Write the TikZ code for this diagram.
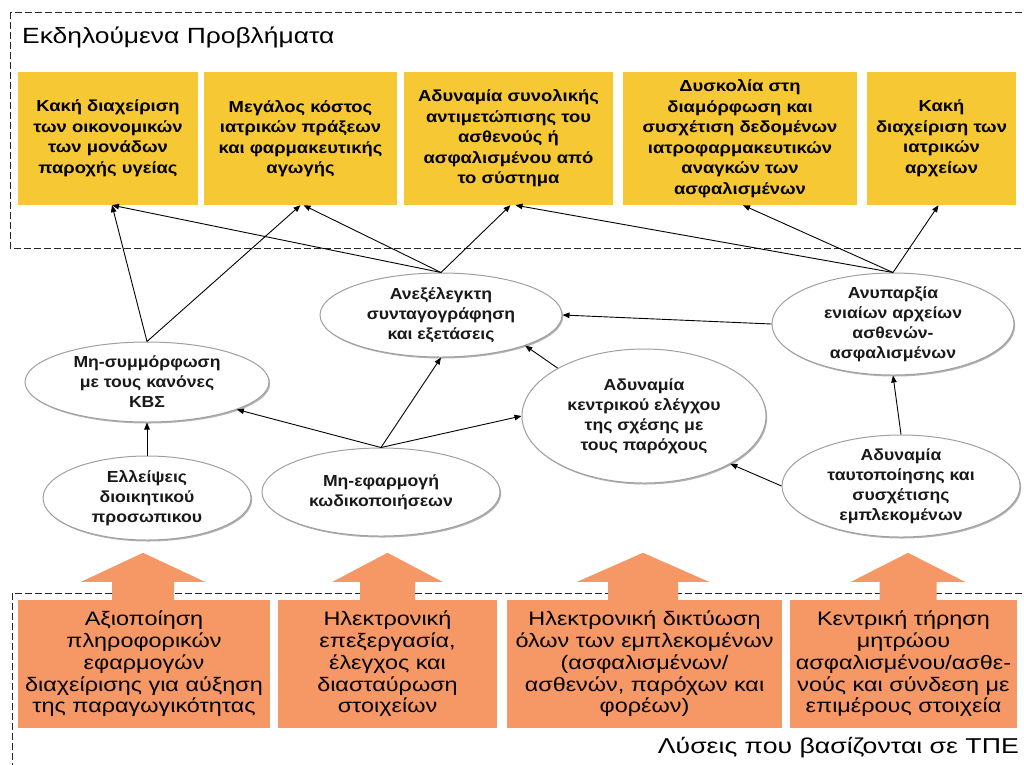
\documentclass[tikz,border=0pt]{standalone}
\usepackage{fontspec}
\setmainfont{Liberation Sans}
\newfontfamily\titlefont[FakeStretch=1.2]{Liberation Sans}
\newfontfamily\captionfont[FakeStretch=1.24]{Liberation Sans}
\newfontfamily\probfont[FakeStretch=1.15]{Liberation Sans}
\newfontfamily\causefont[FakeStretch=1.1]{Liberation Sans}
\newfontfamily\solfont[FakeStretch=1.2]{Liberation Sans}
\usetikzlibrary{shapes.geometric,arrows.meta,shadows}

\definecolor{probyellow}{RGB}{246,201,52}
\definecolor{solorange}{RGB}{246,152,102}
\definecolor{ellline}{RGB}{160,160,160}

% upward block arrow standing on a solution box
% #1 node, #2 x offset, #3 half stem width, #4 half head width
\newcommand\upblock[4]{%
  \fill[solorange] ([xshift=#2pt-#3pt]#1.north) -- ++(0,-18) -- ++(#3-#4,0)
    -- ++(#4,-29) -- ++(#4,29) -- ++(#3-#4,0) -- ++(0,18) -- cycle;}

\begin{document}
\begin{tikzpicture}[x=1pt,y=-1pt,
  frame/.style={draw=black!85, line width=0.8pt, dash pattern=on 7pt off 3pt},
  probbox/.style={fill=probyellow, inner sep=0pt, align=center,
    minimum height=133pt, font=\probfont\bfseries\fontsize{16}{20.5}\selectfont},
  solbox/.style={fill=solorange, inner sep=0pt, align=center,
    minimum height=128pt, font=\solfont\fontsize{19.5}{21.7}\selectfont},
  cause/.style={ellipse, draw=ellline, line width=1pt, fill=white, inner sep=0pt,
    drop shadow={shadow xshift=1.2pt, shadow yshift=-1.5pt, fill=black!60, opacity=0.5}},
  causetext/.style={align=center, inner sep=0pt, text=black!90,
    font=\causefont\bfseries\fontsize{16}{20}\selectfont},
  conn/.style={-{Triangle[length=7pt,width=5.5pt]}, line width=0.9pt, black},
]
\useasboundingbox (0,0) rectangle (1024,764);
\fill[white] (0,0) rectangle (1024,764);

% dashed frames running off the right and bottom edges
\begin{scope}
  \clip (0,0) rectangle (1024,764);
  \draw[frame] (10,12) rectangle (1040,248);
  \draw[frame] (12,593) rectangle (1040,790);
\end{scope}

\node[anchor=west, inner sep=0pt, font=\titlefont\fontsize{22}{24}\selectfont] (ptitle) at (22,37) {Εκδηλούμενα Προβλήματα};
\node[anchor=east, inner sep=0pt, font=\captionfont\fontsize{21.5}{24}\selectfont] (stitle) at (1019,748) {Λύσεις που βασίζονται σε ΤΠΕ};

% manifested problems
\node[probbox, minimum width=180pt] (y1) at (108,138.5) {Κακή διαχείριση\\των οικονομικών\\των μονάδων\\παροχής υγείας};
\node[probbox, minimum width=193pt] (y2) at (300.5,138.5) {Μεγάλος κόστος\\ιατρικών πράξεων\\και φαρμακευτικής\\αγωγής};
\node[probbox, minimum width=209pt] (y3) at (508.5,138.5) {Αδυναμία συνολικής\\αντιμετώπισης του\\ασθενούς ή\\ασφαλισμένου από\\το σύστημα};
\node[probbox, minimum width=234pt] (y4) at (740,138.5) {Δυσκολία στη\\διαμόρφωση και\\συσχέτιση δεδομένων\\ιατροφαρμακευτικών\\αναγκών των\\ασφαλισμένων};
\node[probbox, minimum width=149pt] (y5) at (941.5,138.5) {Κακή\\διαχείριση των\\ιατρικών\\αρχείων};

% causes
\node[cause, minimum width=242pt, minimum height=84pt] (e1) at (441,315) {};
\node[causetext] (t1) at (e1) {Ανεξέλεγκτη\\συνταγογράφηση\\και εξετάσεις};
\node[cause, minimum width=244pt, minimum height=80pt] (e2) at (147,382) {};
\node[causetext] (t2) at (e2) {Μη-συμμόρφωση\\με τους κανόνες\\ΚΒΣ};
\node[cause, minimum width=208pt, minimum height=84pt] (e3) at (147,498) {};
\node[causetext] (t3) at (e3) {Ελλείψεις\\διοικητικού\\προσωπικου};
\node[cause, minimum width=238pt, minimum height=88pt] (e4) at (381,492) {};
\node[causetext] (t4) at (e4) {Μη-εφαρμογή\\κωδικοποιήσεων};
\node[cause, minimum width=244pt, minimum height=134pt] (e5) at (644,416) {};
\node[causetext] (t5) at (e5) {Αδυναμία\\κεντρικού ελέγχου\\της σχέσης με\\τους παρόχους};
\node[cause, minimum width=242pt, minimum height=102pt] (e6) at (893,324) {};
\node[causetext] (t6) at (e6) {Ανυπαρξία\\ενιαίων αρχείων\\ασθενών-\\ασφαλισμένων};
\node[cause, minimum width=238pt, minimum height=102pt] (e7) at (901,486) {};
\node[causetext] (t7) at (e7) {Αδυναμία\\ταυτοποίησης και\\συσχέτισης\\εμπλεκομένων};

% cause links
\draw[conn] (e2.north) -- ([xshift=4pt]y1.south);
\draw[conn] (e2.north) -- (y2.south);
\draw[conn] (e1.north) -- ([xshift=4pt]y1.south);
\draw[conn] (e1.north) -- ([xshift=3pt]y2.south);
\draw[conn] (e1.north) -- ([xshift=2pt]y3.south);
\draw[conn] (e6.north) -- ([xshift=7pt]y3.south);
\draw[conn] (e6.north) -- ([xshift=3pt]y4.south);
\draw[conn] (e6.north) -- ([xshift=-3pt]y5.south);
\draw[conn] (e6.west) -- (e1.east);
\draw[conn] (e5.151) -- (e1.-20);
\draw[conn] (e4.north) -- (e2.-17);
\draw[conn] (e4.north) -- (e1.south);
\draw[conn] (e4.north) -- (e5.west);
\draw[conn] (e3.north) -- (e2.south);
\draw[conn] (e7.west) -- (e5.-29);
\draw[conn] (e7.north) -- (e6.south);

% ICT-based solutions
\node[solbox, minimum width=252pt] (oA) at (144,664) {Αξιοποίηση\\πληροφορικών\\εφαρμογών\\διαχείρισης για αύξηση\\της παραγωγικότητας};
\node[solbox, minimum width=219pt] (oB) at (387.5,664) {Ηλεκτρονική\\επεξεργασία,\\έλεγχος και\\διασταύρωση\\στοιχείων};
\node[solbox, minimum width=275pt] (oC) at (644.5,664) {Ηλεκτρονική δικτύωση\\όλων των εμπλεκομένων\\(ασφαλισμένων/\\ασθενών, παρόχων και\\φορέων)};
\node[solbox, minimum width=227pt] (oD) at (903.5,664) {Κεντρική τήρηση\\μητρώου\\ασφαλισμένου/ασθε-\\νούς και σύνδεση με\\επιμέρους στοιχεία};

\upblock{oA}{-1}{31}{62}
\upblock{oB}{0}{27.5}{55}
\upblock{oC}{-1.5}{35}{66}
\upblock{oD}{4.5}{28.5}{57}
\end{tikzpicture}
\end{document}
